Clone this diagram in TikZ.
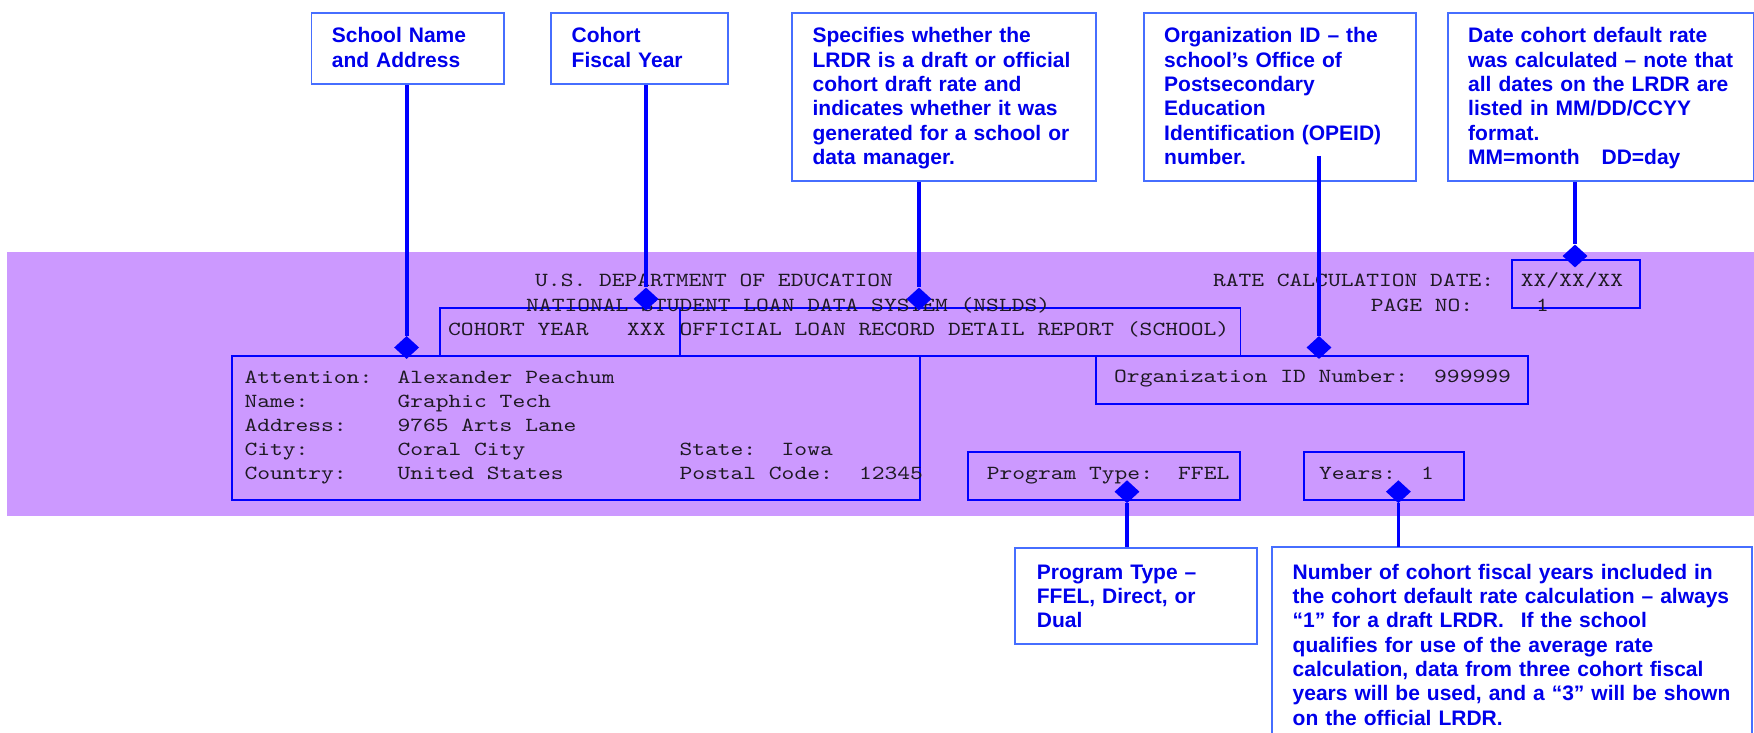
\documentclass[tikz,border=0pt]{standalone}
\usepackage{fontspec}
\setmainfont{Liberation Sans}
\newfontfamily\monof[FakeStretch=1.217]{lmmono10-regular.otf}
\usetikzlibrary{shapes.geometric}
\definecolor{bandpurple}{RGB}{204,153,255}
\definecolor{lineblue}{RGB}{0,0,255}
\definecolor{txtblue}{RGB}{0,0,235}
\definecolor{cborder}{RGB}{70,110,255}
\definecolor{monotxt}{RGB}{30,25,35}
\tikzset{
  callout/.style={draw=cborder, line width=1.8pt, anchor=north west, inner ysep=0pt,
    align=left, text=txtblue, font=\fontsize{21}{24.3}\selectfont\bfseries},
  monobox/.style={draw=lineblue, line width=1.8pt, anchor=north west, inner sep=0pt},
  monotext/.style={anchor=base west, inner sep=0pt, text=monotxt,
    font={\monof\fontsize{20}{24}\selectfont}},
  conn/.style={draw=lineblue, line width=3.8pt},
  pin/.style={diamond, fill=lineblue, draw=none, inner sep=0pt,
    minimum width=25pt, minimum height=23pt},
}
\begin{document}
\begin{tikzpicture}[x=1pt, y=-1pt]
\useasboundingbox (0,0) rectangle (1754,733);
% purple band
\fill[bandpurple] (7,252) rectangle (1754,516);

% report boxes
\node[monobox, minimum width=240.3pt, minimum height=47.7pt] (cohortbox) at (439,307.3) {};
\node[monobox, minimum width=560.2pt, minimum height=47.7pt] (officialbox) at (679.3,307.3) {};
\node[monobox, minimum width=688pt, minimum height=144pt] (addrbox) at (231,355) {};
\node[monobox, minimum width=128pt, minimum height=48.3pt] (datebox) at (1511,259) {};
\node[monobox, minimum width=432pt, minimum height=48pt] (orgbox) at (1095,355) {};
\node[monobox, minimum width=272pt, minimum height=48pt] (progbox) at (967,451) {};
\node[monobox, minimum width=160pt, minimum height=48pt] (yearsbox) at (1303,451) {};

% report text
\node[monotext] (h1) at (535,286.7) {U.S. DEPARTMENT OF EDUCATION};
\node[monotext] (h2) at (1212.8,286.7) {RATE CALCULATION DATE:};
\node[monotext] (h3) at (1520.7,286.7) {XX/XX/XX};
\node[monotext] (h4) at (526,311) {NATIONAL STUDENT LOAN DATA SYSTEM (NSLDS)};
\node[monotext] (h5) at (1370.7,311) {PAGE NO:};
\node[monotext] (h6) at (1536,311) {1};
\node[monotext] (h7) at (448,335) {COHORT YEAR};
\node[monotext] (h8) at (627,335) {XXX};
\node[monotext] (h9) at (679.5,335) {OFFICIAL LOAN RECORD DETAIL REPORT (SCHOOL)};

\node[monotext] (a1) at (244.3,383.5) {Attention:};
\node[monotext] (a2) at (244.3,407.5) {Name:};
\node[monotext] (a3) at (244.3,431.5) {Address:};
\node[monotext] (a4) at (244.3,455.5) {City:};
\node[monotext] (a5) at (244.3,479.5) {Country:};
\node[monotext] (b1) at (397.3,383.5) {Alexander Peachum};
\node[monotext] (b2) at (397.3,407.5) {Graphic Tech};
\node[monotext] (b3) at (397.3,431.5) {9765 Arts Lane};
\node[monotext] (b4) at (397.3,455.5) {Coral City};
\node[monotext] (b5) at (397.3,479.5) {United States};
\node[monotext] (s1) at (679.3,455.5) {State:};
\node[monotext] (s2) at (781.5,455.5) {Iowa};
\node[monotext] (p1) at (679.3,479.5) {Postal Code:};
\node[monotext] (p2) at (858.8,479.5) {12345};

\node[monotext] (o1) at (1114,382.7) {Organization ID Number:};
\node[monotext] (o2) at (1434,382.7) {999999};
\node[monotext] (t1) at (986.7,479) {Program Type:};
\node[monotext] (t2) at (1178,479) {FFEL};
\node[monotext] (y1) at (1319,479) {Years:};
\node[monotext] (y2) at (1421,479) {1};

% callouts
\node[callout, inner xsep=20.4pt, text width=151.6pt, text height=30pt, text depth=41.3pt]
  (c1) at (310.6,12) {School Name\\and Address};
\node[callout, inner xsep=20.4pt, text width=135.8pt, text height=30pt, text depth=41.3pt]
  (c2) at (550.4,12) {Cohort\\Fiscal Year};
\node[callout, inner xsep=20.7pt, text width=262.9pt, text height=30pt, text depth=138pt]
  (c3) at (791,12) {Specifies whether the\\LRDR is a draft or official\\cohort draft rate and\\indicates whether it was\\generated for a school or\\data manager.};
\node[callout, inner xsep=20.6pt, text width=231.4pt, text height=30pt, text depth=138pt]
  (c4) at (1142.7,12) {Organization ID – the\\school’s Office of\\Postsecondary\\Education\\Identification (OPEID)\\number.};
\node[callout, inner xsep=20.6pt, text width=265.1pt, text height=30pt, text depth=138pt]
  (c5) at (1446.7,12) {Date cohort default rate\\was calculated – note that\\all dates on the LRDR are\\listed in MM/DD/CCYY\\format.\\MM=month\hspace{22pt}DD=day};
\node[callout, inner xsep=21.6pt, text width=198.4pt, text height=31.6pt, text depth=65pt]
  (c6) at (1014.4,546.7) {Program Type –\\FFEL, Direct, or\\Dual};
\node[callout, draw=none, inner xsep=20.2pt, text width=438pt, text height=31.6pt, text depth=154.7pt]
  (c7) at (1271.6,546.7) {Number of cohort fiscal years included in\\the cohort default rate calculation – always\\“1” for a draft LRDR.\hspace{17pt}If the school\\qualifies for use of the average rate\\calculation, data from three cohort fiscal\\years will be used, and a “3” will be shown\\on the official LRDR.};
\draw[cborder, line width=1.8pt] (c7.south west) -- (c7.north west) -- (c7.north east) -- (c7.south east);

% pins
\node[pin] (d1) at (406.6,347.5) {};
\node[pin] (d2) at (646,299) {};
\node[pin] (d3) at (919,299) {};
\node[pin] (d4) at (1319,347.5) {};
\node[pin] (d5) at (1575,256) {};
\node[pin] (d6) at (1127,491.7) {};
\node[pin] (d7) at (1398.4,491.7) {};
\coordinate (c4s) at (1319,156);

% connectors
\draw[conn] (d1 |- c1.south) -- (d1.north);
\draw[conn] (d2 |- c2.south) -- (d2.north);
\draw[conn] (d3 |- c3.south) -- (d3.north);
\draw[conn] (c4s) -- (d4.north);
\draw[conn] (d5 |- c5.south) -- (d5.north);
\draw[conn] (d6.south) -- (d6 |- c6.north);
\draw[conn] (d7.south) -- (d7 |- c7.north);
\end{tikzpicture}
\end{document}
